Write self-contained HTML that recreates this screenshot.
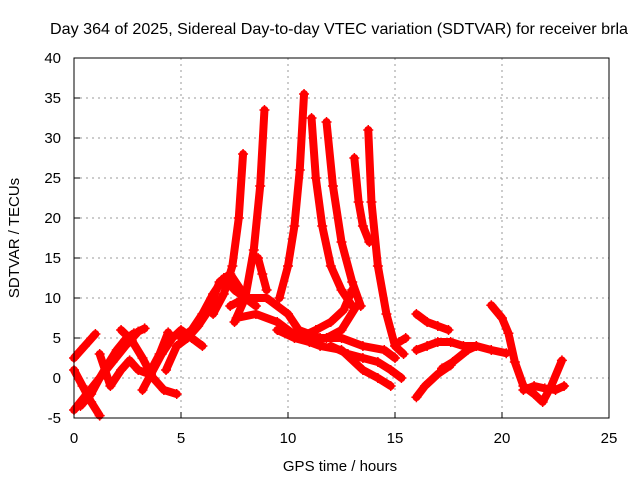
<!DOCTYPE html>
<html><head><meta charset="utf-8"><style>
body{margin:0;background:#fff;}
svg{display:block;font-family:"Liberation Sans",sans-serif;}
</style></head><body>
<svg id="chart" width="640" height="480">
<rect x="0" y="0" width="640" height="480" fill="#fff"/>
<text x="339" y="34" font-size="16" text-anchor="middle" textLength="578" lengthAdjust="spacingAndGlyphs">Day 364 of 2025, Sidereal Day-to-day VTEC variation (SDTVAR) for receiver brla</text>
<text x="340" y="471" font-size="15" text-anchor="middle">GPS time / hours</text>
<text transform="translate(19,238) rotate(-90)" font-size="15" text-anchor="middle">SDTVAR / TECUs</text>
<g id="grid"></g><g id="ticks"></g><g id="series"></g>
<rect x="74" y="58" width="535" height="360" fill="none" stroke="#000" stroke-width="1"/>
</svg>
<script>
const xTicks=[0,5,10,15,20,25];
const yTicks=[-5,0,5,10,15,20,25,30,35,40];
// tracks: hours and SDTVAR values
const trackHours=[
[0,0.5,1.0],
[0,0.6,1.2,1.8,2.4,3.0,3.3],
[0,0.4,0.8,1.2],
[0.3,0.8,1.2,1.6,2.0,2.4,2.8],
[1.2,1.7,2.2,2.6,3.0,3.5,4.0,4.4],
[2.2,2.7,3.2,3.7,4.2,4.8],
[3.2,3.6,4.1,4.6,5.0,5.5,6.0],
[4.3,4.8,5.3,5.8,6.3,6.8,7.3,7.8],
[5.0,5.5,6.0,6.5,7.0,7.5,8.0,8.5],
[6.5,7.0,7.4,7.7,7.9],
[7.5,8.0,8.4,8.7,8.9],
[8.6,8.8,9.0],
[9.6,10.0,10.3,10.55,10.75],
[11.1,11.3,11.6,12.0,12.5,13.0],
[11.8,12.1,12.5,13.0,13.4],
[13.1,13.3,13.5,13.8],
[13.75,13.9,14.2,14.6,15.0,15.4],
[7.3,8.0,9.0,10.0,10.5,11.5,12.5,13.5,14.5,15.0],
[7.6,8.5,9.5,10.5,11.5,12.5,13.5,14.2,14.8],
[10.5,11.3,12.0,12.6,13.0],
[12.0,12.8,13.5,14.2,14.8,15.3],
[16.0,16.5,17.0,17.6,18.2,18.8,19.5,20.2],
[16.0,16.5,17.0,17.5],
[16.0,16.4,17.0,17.6],
[17.2,17.7,18.4,18.8],
[19.5,20.0,20.3,20.6,21.0,21.5,21.9,22.3,22.8],
[21.0,21.5,22.0,22.5,22.9],
[15.2,15.5],
[9.5,10.3,11.0,11.8,12.5,13.2]
];
const trackValues=[
[2.5,4,5.5],
[-4,-2,0,2,4,5.8,6.2],
[1,-1,-3,-4.7],
[-3.5,-2,0,1.8,3.5,4.8,5.6],
[3,-1,1,2.2,1,0.5,3,5.7],
[6,4.7,2.5,0,-1.5,-2],
[-1.5,0.5,3,5,6,5,4],
[1,4,5,6.5,8.5,12,13,11],
[5,6,8,10.5,12.5,11,10,9],
[8,10.5,14,20,28],
[7,10,16,24,33.5],
[15,13,11],
[10,14,19,26,35.5],
[32.5,25,19,14,11,9],
[32,24,17,12,9],
[27.5,22,19,17],
[31,22,14,8,4,3],
[9,10,10,8,6,5,5,4,3.5,2.5],
[7.5,8,7,5,4,3.5,1,0,-1],
[5,6,7,8.5,11],
[4,3,2.5,2,1,0],
[3.5,4,4.5,4.5,4,4,3.5,3.1],
[8,7,6.5,6],
[-2.4,-1,0.5,1.6],
[1.2,2,3.5,4],
[9.1,7.5,5.6,2,-1,-2,-3,-1,2.2],
[-1.5,-1,-1.3,-1.5,-1],
[4.5,5],
[6,5,4.5,5,6,9]
];
const X=h=>74+h*21.4, Y=v=>378-v*8;
const ns='http://www.w3.org/2000/svg';
const grid=document.getElementById('grid'), ticks=document.getElementById('ticks'), ser=document.getElementById('series');
xTicks.forEach(t=>{
 const x=X(t);
 if(t>0&&t<25){const l=document.createElementNS(ns,'line');
 
 
 l.setAttribute('x1',x);l.setAttribute('x2',x);l.setAttribute('y1',58);l.setAttribute('y2',418);
 l.setAttribute('stroke','#999');l.setAttribute('stroke-dasharray','2,4');grid.appendChild(l);}
 const tk=document.createElementNS(ns,'line');
 
 
 tk.setAttribute('x1',x);tk.setAttribute('x2',x);tk.setAttribute('y1',418);tk.setAttribute('y2',412);tk.setAttribute('stroke','#000');ticks.appendChild(tk);
 const tx=document.createElementNS(ns,'text');
 
 
 tx.setAttribute('x',x);tx.setAttribute('y',443);tx.setAttribute('font-size','15');tx.setAttribute('text-anchor','middle');tx.textContent=t;ticks.appendChild(tx);
});
yTicks.forEach(t=>{
 const y=Y(t);
 if(t>-5&&t<40){const l=document.createElementNS(ns,'line');
 
 
 l.setAttribute('x1',74);l.setAttribute('x2',609);l.setAttribute('y1',y);l.setAttribute('y2',y);
 l.setAttribute('stroke','#999');l.setAttribute('stroke-dasharray','2,4');grid.appendChild(l);}
 const tk=document.createElementNS(ns,'line');
 
 
 tk.setAttribute('x1',74);tk.setAttribute('x2',80);tk.setAttribute('y1',y);tk.setAttribute('y2',y);tk.setAttribute('stroke','#000');ticks.appendChild(tk);
 const tx=document.createElementNS(ns,'text');
 
 
 tx.setAttribute('x',61);tx.setAttribute('y',y+5);tx.setAttribute('font-size','15');tx.setAttribute('text-anchor','end');tx.textContent=t;ticks.appendChild(tx);
});
trackHours.forEach((hs,i)=>{
 const vs=trackValues[i];
 const p=document.createElementNS(ns,'polyline');
 
 
 p.setAttribute('points',hs.map((h,j)=>X(h)+','+Y(vs[j])).join(' '));
 p.setAttribute('fill','none');p.setAttribute('stroke','#f00');p.setAttribute('stroke-width','8');
 p.setAttribute('stroke-linejoin','round');p.setAttribute('stroke-linecap','round');
 ser.appendChild(p);
 hs.forEach((h,j)=>{
  const m=document.createElementNS(ns,'path');
  
  
  const x=X(h),y=Y(vs[j]);
  m.setAttribute('d',`M${x-5},${y}H${x+5}M${x},${y-5}V${y+5}`);
  m.setAttribute('stroke','#f00');m.setAttribute('stroke-width','1.5');
  ser.appendChild(m);
 });
});
</script>
</body></html>
